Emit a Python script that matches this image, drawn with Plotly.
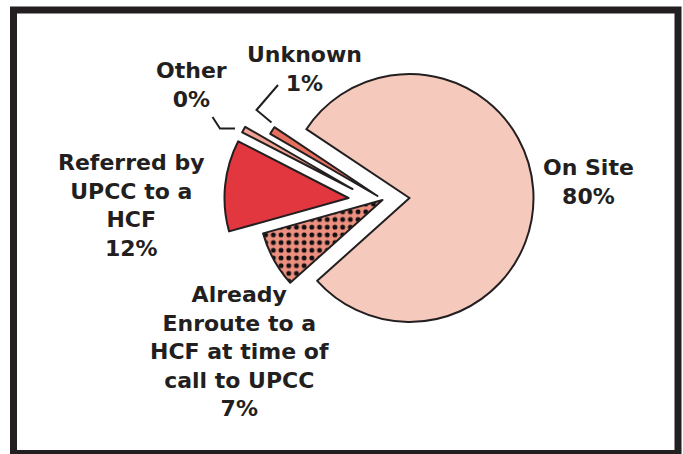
import plotly.graph_objects as go

# ---- data ----
categories = ["On Site", "Already Enroute to a HCF at time of call to UPCC",
              "Referred by UPCC to a HCF", "Other", "Unknown"]
values = [79.0, 7.3, 11.9, 0.8, 1.0]
percent_labels = ["80%", "7%", "12%", "0%", "1%"]
label_texts = ["On Site", "Already<br>Enroute to a<br>HCF at time of<br>call to UPCC",
               "Referred by<br>UPCC to a<br>HCF", "Other", "Unknown"]

# ---- layout / style ----
W, H = 683, 454
CX, CY, R = 409.5, 198.0, 124.0          # pie centre and radius (px)
# exploded offset of each slice (px, screen coords)
offsets = [(0, 0), (-27, 2), (-61, 0), (-57, -9), (-32, -2)]
fills = ["#F6C9BD", "#EE9080", "#E2373F", "#F1A292", "#E76F5E"]
patterns = ["", ".", "", "", ""]
INK = "#231F20"
ROT = -56.3

fig = go.Figure()
for i, cat in enumerate(categories):
    dx, dy = offsets[i]
    cx, cy = CX + dx, CY + dy
    dom_x = [(cx - R) / W, (cx + R) / W]
    dom_y = [1 - (cy + R) / H, 1 - (cy - R) / H]
    cols = [fills[j] if j == i else "rgba(0,0,0,0)" for j in range(len(values))]
    lw = [2 if j == i else 0 for j in range(len(values))]
    shapes_p = [patterns[j] if j == i else "" for j in range(len(values))]
    fig.add_trace(go.Pie(
        labels=categories, values=values, sort=False, direction="clockwise",
        rotation=ROT, domain=dict(x=dom_x, y=dom_y), textinfo="none",
        hoverinfo="label+percent", showlegend=False,
        marker=dict(colors=cols, line=dict(color=INK, width=lw),
                    pattern=dict(shape=shapes_p, fgcolor="#111111", bgcolor=cols,
                                 size=7.7, solidity=0.32, fillmode="replace")),
    ))

# labels (centre positions in px)
label_pos = [(588, 182), (239, 351), (131, 205), (191, 85), (304, 69)]
for i, (px, py) in enumerate(label_pos):
    fig.add_annotation(
        x=px / W, y=1 - py / H, xref="paper", yref="paper",
        text=label_texts[i] + "<br>" + percent_labels[i], showarrow=False,
        xanchor="center", yanchor="middle", align="center",
        font=dict(family="DejaVu Sans", size=22, color=INK, weight="bold"),
    )

def px_path(points):
    s = ""
    for k, (x, y) in enumerate(points):
        s += ("M" if k == 0 else "L") + f"{x / W:.5f},{1 - y / H:.5f} "
    return s.strip()

# leader lines
fig.add_shape(type="path", xref="paper", yref="paper",
              path=px_path([(212.5, 117), (220, 128.5), (235, 128.5)]),
              line=dict(color=INK, width=2))
fig.add_shape(type="path", xref="paper", yref="paper",
              path=px_path([(278, 85), (256.5, 110), (271.5, 122.5)]),
              line=dict(color=INK, width=2))

# frame
fig.add_shape(type="rect", xref="paper", yref="paper",
              x0=13.5 / W, x1=678 / W, y0=1 - 453.5 / H, y1=1 - 10 / H,
              line=dict(color=INK, width=7), fillcolor="rgba(0,0,0,0)")

fig.update_layout(width=W, height=H, margin=dict(l=0, r=0, t=0, b=0),
                  paper_bgcolor="white", plot_bgcolor="white", showlegend=False)

fig.write_html("out.html", config={"displayModeBar": False},
               post_script="document.body.style.margin='0';document.body.style.overflow='hidden';")
